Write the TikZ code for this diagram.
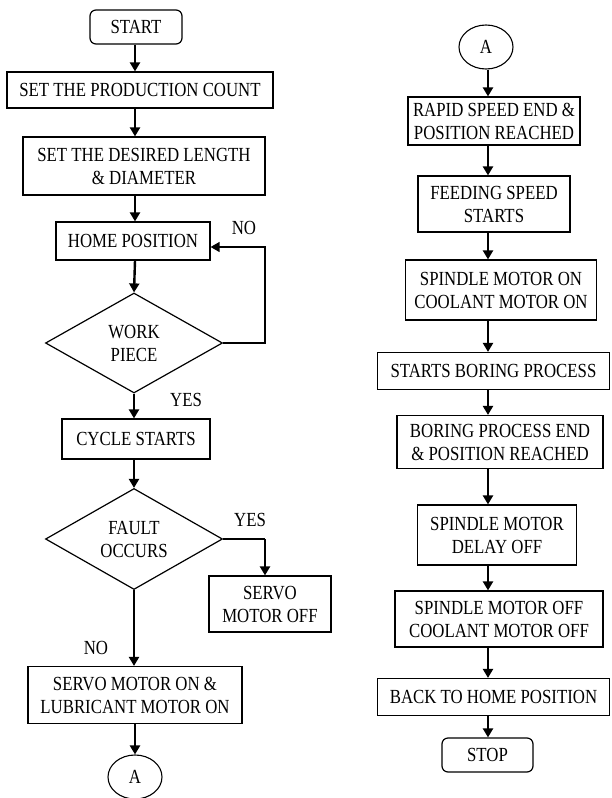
\documentclass[tikz,border=0pt]{standalone}
\usepackage{fontspec}
\setmainfont{Liberation Serif}[FakeStretch=0.84]
\usetikzlibrary{shapes.geometric,arrows.meta}
\newcommand\fcfont{\fontsize{20}{23}\selectfont}
\begin{document}
\begin{tikzpicture}[x=1pt,y=-1pt,
  box/.style={draw,line width=1.2pt,inner sep=0pt,align=center,font=\fcfont},
  term/.style={box,rounded corners=6pt},
  dia/.style={draw,diamond,line width=1.2pt,inner sep=0pt,align=center,font=\fcfont,aspect=1.77},
  conn/.style={draw,ellipse,line width=1.1pt,inner sep=0pt,font=\fcfont,minimum width=54pt,minimum height=44pt},
  lbl/.style={font=\fcfont,inner sep=0pt},
  arr/.style={line width=2.4pt,-{Triangle[length=9pt,width=10pt]}},
  thinarr/.style={line width=1.3pt,-{Triangle[length=9pt,width=10pt]}},
  thinline/.style={line width=1.3pt}]
\useasboundingbox (0,0) rectangle (611,798);
% ---- left column
\coordinate (lx) at (135,0);
\node[term,minimum width=92pt,minimum height=34pt] (start) at (136,27) {START};
\node[box,minimum width=266pt,minimum height=36pt] (prod) at (140,90) {SET THE PRODUCTION COUNT};
\node[box,minimum width=242pt,minimum height=58pt] (desired) at (144,166) {SET THE DESIRED LENGTH\\\& DIAMETER};
\node[box,minimum width=154pt,minimum height=38pt] (home) at (133,241) {HOME POSITION};
\node[dia,minimum width=177pt,minimum height=100pt] (work) at (134,343) {WORK\\PIECE};
\node[box,minimum width=148pt,minimum height=40pt] (cycle) at (136,439) {CYCLE STARTS};
\node[dia,minimum width=177pt,minimum height=101pt] (fault) at (134,539) {FAULT\\OCCURS};
\node[box,minimum width=122pt,minimum height=56pt] (soff) at (270,604) {SERVO\\MOTOR OFF};
\node[box,minimum width=214pt,minimum height=57pt] (son) at (135,695) {SERVO MOTOR ON \&\\LUBRICANT MOTOR ON};
\node[conn] (a1) at (135,777) {A};
\node[lbl] (no1) at (244,228) {NO};
\node[lbl] (yes1) at (186,400) {YES};
\node[lbl] (yes2) at (250,520) {YES};
\node[lbl] (no2) at (96,648) {NO};
\draw[arr] (start.south -| lx) -- (prod.north -| lx);
\draw[arr] (prod.south -| lx) -- (desired.north -| lx);
\draw[arr] (desired.south -| lx) -- (home.north -| lx);
\draw[arr] (home.south -| lx) -- (work.north);
\draw[arr] (work.south) -- (cycle.north -| work.south);
\draw[arr] (cycle.south -| work.south) -- (fault.north);
\draw[arr] (fault.south) -- (son.north -| fault.south);
\draw[arr] (son.south -| lx) -- (a1.north);
\coordinate (lp) at (265,247);
\draw[thinarr] (work.east) -| (lp) -- (home.east |- lp);
\coordinate (fp) at (265,539);
\draw[thinline] (fault.east) -- (fp);
\draw[arr] (fp) -- (soff.north -| fp);
% ---- right column
\coordinate (rx) at (488,0);
\node[conn] (a2) at (486,47) {A};
\node[box,minimum width=172pt,minimum height=48pt] (rapid) at (494,121) {RAPID SPEED END \&\\POSITION REACHED};
\node[box,minimum width=152pt,minimum height=56pt] (feed) at (494,204) {FEEDING SPEED\\STARTS};
\node[box,minimum width=191pt,minimum height=60pt] (spon) at (501,290) {SPINDLE MOTOR ON\\COOLANT MOTOR ON};
\node[box,minimum width=232pt,minimum height=37pt] (bore) at (493.5,371) {STARTS BORING PROCESS};
\node[box,minimum width=206pt,minimum height=53pt] (boreend) at (500,442) {BORING PROCESS END\\\& POSITION REACHED};
\node[box,minimum width=159pt,minimum height=60pt] (delay) at (497,535) {SPINDLE MOTOR\\DELAY OFF};
\node[box,minimum width=208pt,minimum height=56pt] (spoff) at (499,619) {SPINDLE MOTOR OFF\\COOLANT MOTOR OFF};
\node[box,minimum width=232pt,minimum height=37pt] (back) at (493.5,697) {BACK TO HOME POSITION};
\node[term,minimum width=91pt,minimum height=34pt] (stop) at (487.5,755) {STOP};
\draw[arr] (a2.south -| rx) -- (rapid.north -| rx);
\draw[arr] (rapid.south -| rx) -- (feed.north -| rx);
\draw[arr] (feed.south -| rx) -- (spon.north -| rx);
\draw[arr] (spon.south -| rx) -- (bore.north -| rx);
\draw[arr] (bore.south -| rx) -- (boreend.north -| rx);
\draw[arr] (boreend.south -| rx) -- (delay.north -| rx);
\draw[arr] (delay.south -| rx) -- (spoff.north -| rx);
\draw[arr] (spoff.south -| rx) -- (back.north -| rx);
\draw[arr] (back.south -| rx) -- (stop.north -| rx);
\end{tikzpicture}
\end{document}
